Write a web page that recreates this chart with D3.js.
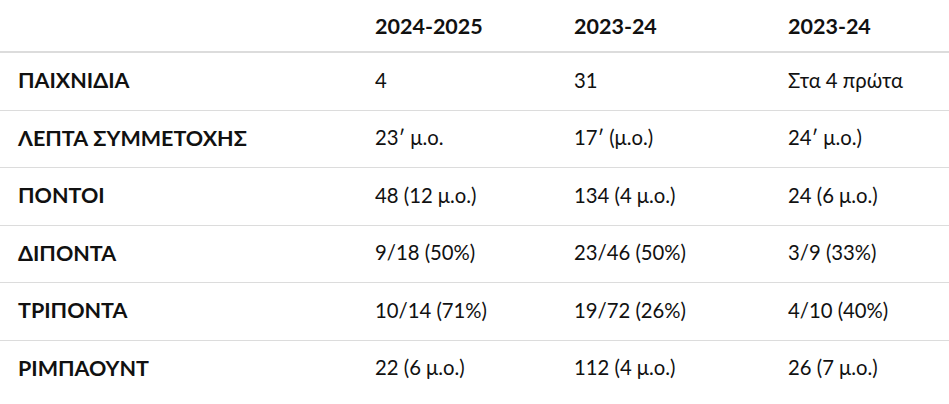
<!DOCTYPE html>
<html>
<head>
<meta charset="utf-8">
<script src="https://cdn.jsdelivr.net/npm/d3@7"></script>
<style>
  body { margin: 0; background: #fff; }
  text { font-family: Lato, "Noto Sans", sans-serif; fill: #111; }
</style>
</head>
<body>
<script>
// Table data
const columns = ["2024-2025", "2023-24", "2023-24 "];
const rowLabels = ["ΠΑΙΧΝΙΔΙΑ", "ΛΕΠΤΑ ΣΥΜΜΕΤΟΧΗΣ", "ΠΟΝΤΟΙ", "ΔΙΠΟΝΤΑ", "ΤΡΙΠΟΝΤΑ", "ΡΙΜΠΑΟΥΝΤ"];
const season1 = ["4", "23′ μ.ο.", "48 (12 μ.ο.)", "9/18 (50%)", "10/14 (71%)", "22 (6 μ.ο.)"];
const season2 = ["31", "17′ (μ.ο.)", "134 (4 μ.ο.)", "23/46 (50%)", "19/72 (26%)", "112 (4 μ.ο.)"];
const season3 = ["Στα 4 πρώτα", "24′ μ.ο.)", "24 (6 μ.ο.)", "3/9 (33%)", "4/10 (40%)", "26 (7 μ.ο.)"];

const width = 949;
const height = 404;
const headerH = 52;
const rowH = 57.5;

const svg = d3.select("body").append("svg")
  .attr("width", width)
  .attr("height", height);

// column positions
const x = d3.scaleOrdinal()
  .domain(["label"].concat(columns))
  .range([18, 375, 574, 788]);

const y = d3.scaleBand()
  .domain(rowLabels)
  .range([headerH, headerH + rowH * rowLabels.length]);

// header
svg.selectAll("text.head")
  .data(columns)
  .enter().append("text")
  .attr("class", "head")
  .attr("x", d => x(d))
  .attr("y", headerH / 2)
  .attr("dy", "0.35em")
  .style("font-size", "21.5px")
  .style("font-weight", "bold")
  .text(d => d.trim());

// row separators
svg.append("line")
  .attr("x1", 0).attr("x2", width)
  .attr("y1", headerH).attr("y2", headerH)
  .style("stroke", "#dcdcdc")
  .style("stroke-width", 2);

svg.selectAll("line.sep")
  .data(rowLabels.slice(0, -1))
  .enter().append("line")
  .attr("class", "sep")
  .attr("x1", 0).attr("x2", width)
  .attr("y1", d => Math.round(y(d) + y.bandwidth()) + 0.5)
  .attr("y2", d => Math.round(y(d) + y.bandwidth()) + 0.5)
  .style("stroke", "#dcdcdc")
  .style("stroke-width", 1);

// rows
const rows = rowLabels.map((label, i) => ({
  label: label,
  cells: [season1[i], season2[i], season3[i]]
}));

const g = svg.selectAll("g.row")
  .data(rows)
  .enter().append("g")
  .attr("class", "row")
  .attr("transform", d => `translate(0,${y(d.label) + y.bandwidth() / 2})`);

g.append("text")
  .attr("x", x("label"))
  .attr("dy", "0.35em")
  .style("font-size", "21.5px")
  .style("font-weight", "bold")
  .text(d => d.label);

g.selectAll("text.cell")
  .data(d => d.cells)
  .enter().append("text")
  .attr("class", "cell")
  .attr("x", (d, i) => x(columns[i]))
  .attr("dy", "0.35em")
  .style("font-size", "20.3px")
  .text(d => d);
</script>
</body>
</html>
